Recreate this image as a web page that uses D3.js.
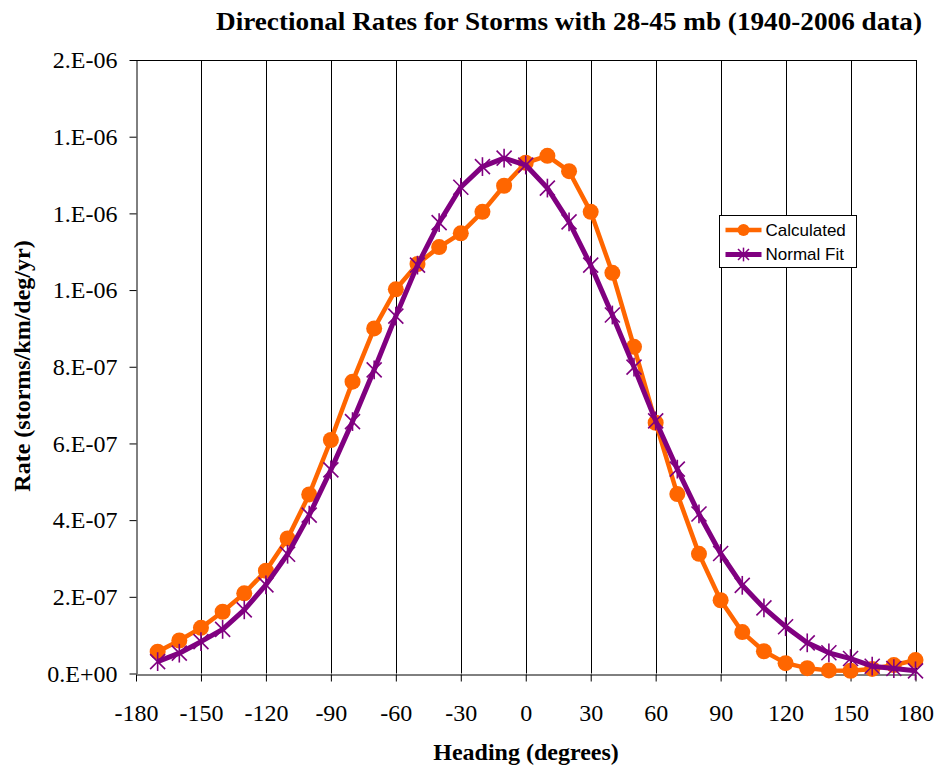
<!DOCTYPE html>
<html>
<head>
<meta charset="utf-8">
<script src="https://cdn.jsdelivr.net/npm/d3@7"></script>
<style>
  html, body { margin: 0; padding: 0; background: #fff; }
  svg { display: block; }
</style>
</head>
<body>
<svg id="chart" width="938" height="769"></svg>
<script>
// Heading bins (degrees) shared by both series
const headings = [-170, -160, -150, -140, -130, -120, -110, -100, -90, -80, -70, -60,
  -50, -40, -30, -20, -10, 0, 10, 20, 30, 40, 50, 60, 70, 80, 90, 100, 110, 120,
  130, 140, 150, 160, 170, 180];

// Calculated directional rate (storms/km/deg/yr)
const calculated = [5.7e-8, 8.6e-8, 1.19e-7, 1.61e-7, 2.09e-7, 2.68e-7, 3.52e-7, 4.67e-7,
  6.09e-7, 7.61e-7, 9.0e-7, 1.002e-6, 1.068e-6, 1.112e-6, 1.148e-6, 1.204e-6, 1.272e-6,
  1.332e-6, 1.35e-6, 1.31e-6, 1.204e-6, 1.045e-6, 8.52e-7, 6.54e-7, 4.68e-7, 3.12e-7,
  1.91e-7, 1.08e-7, 5.8e-8, 2.7e-8, 1.4e-8, 8e-9, 7e-9, 1.2e-8, 2.2e-8, 3.5e-8];

// Normal fit to the calculated rates
const normalFit = [3.1e-8, 5.3e-8, 8.3e-8, 1.15e-7, 1.66e-7, 2.31e-7, 3.11e-7, 4.13e-7,
  5.31e-7, 6.57e-7, 7.92e-7, 9.32e-7, 1.065e-6, 1.176e-6, 1.268e-6, 1.322e-6, 1.344e-6,
  1.326e-6, 1.266e-6, 1.178e-6, 1.065e-6, 9.35e-7, 7.99e-7, 6.59e-7, 5.33e-7, 4.16e-7,
  3.13e-7, 2.3e-7, 1.71e-7, 1.22e-7, 8.0e-8, 5.4e-8, 3.9e-8, 1.9e-8, 1.3e-8, 7e-9];

const xTicks = [-180, -150, -120, -90, -60, -30, 0, 30, 60, 90, 120, 150, 180];
const yTicks = [0, 2e-7, 4e-7, 6e-7, 8e-7, 1.0e-6, 1.2e-6, 1.4e-6, 1.6e-6];
const yTickLabels = ["0.E+00", "2.E-07", "4.E-07", "6.E-07", "8.E-07", "1.E-06", "1.E-06", "1.E-06", "2.E-06"];

const seriesNames = ["Calculated", "Normal Fit"];
const ORANGE = "#FF6600";
const PURPLE = "#800080";

const svg = d3.select("#chart");
const serif = "'Liberation Serif', 'Times New Roman', serif";
const sans = "'Liberation Sans', Arial, sans-serif";

const plot = { left: 136, right: 915.5, top: 60, bottom: 673.5 };

const x = d3.scaleLinear().domain([-180, 180]).range([plot.left, plot.right]);
const y = d3.scaleLinear().domain([0, 1.6e-6]).range([plot.bottom, plot.top]);

// Vertical gridlines
svg.append("g")
  .selectAll("line")
  .data(xTicks.slice(1))
  .join("line")
  .attr("x1", d => Math.round(x(d)) + 0.5)
  .attr("x2", d => Math.round(x(d)) + 0.5)
  .attr("y1", plot.top)
  .attr("y2", plot.bottom)
  .attr("stroke", "#000")
  .attr("stroke-width", 1);

// Top border
svg.append("line")
  .attr("x1", plot.left).attr("x2", Math.round(plot.right) + 1)
  .attr("y1", plot.top + 0.5).attr("y2", plot.top + 0.5)
  .attr("stroke", "#000");

// Axes
const yAxis = d3.axisLeft(y)
  .tickValues(yTicks)
  .tickFormat((d, i) => yTickLabels[i])
  .tickSizeInner(7)
  .tickSizeOuter(0)
  .tickPadding(12);

const xAxis = d3.axisBottom(x)
  .tickValues(xTicks)
  .tickFormat(d => String(d))
  .tickSizeInner(7)
  .tickSizeOuter(0)
  .tickPadding(22);

const gy = svg.append("g")
  .attr("transform", `translate(${plot.left + 0.5},0)`)
  .call(yAxis);
gy.selectAll("text").attr("font-family", serif).attr("font-size", 24).attr("fill", "#000");
gy.selectAll("line, path").attr("stroke", "#000");

const gx = svg.append("g")
  .attr("transform", `translate(0,${Math.round(plot.bottom) + 0.5})`)
  .call(xAxis);
gx.selectAll("text").attr("font-family", serif).attr("font-size", 24).attr("fill", "#000");
gx.selectAll("line, path").attr("stroke", "#000");

// Series lines
const line = d3.line().x(d => x(d[0])).y(d => y(d[1]));
const calcData = headings.map((h, i) => [h, calculated[i]]);
const fitData = headings.map((h, i) => [h, normalFit[i]]);

svg.append("path")
  .datum(calcData)
  .attr("d", line)
  .attr("fill", "none")
  .attr("stroke", ORANGE)
  .attr("stroke-width", 4.5)
  .attr("stroke-linejoin", "round");

svg.append("g")
  .selectAll("circle")
  .data(calcData)
  .join("circle")
  .attr("cx", d => x(d[0]))
  .attr("cy", d => y(d[1]))
  .attr("r", 8)
  .attr("fill", ORANGE);

svg.append("path")
  .datum(fitData)
  .attr("d", line)
  .attr("fill", "none")
  .attr("stroke", PURPLE)
  .attr("stroke-width", 5)
  .attr("stroke-linejoin", "round");

// Asterisk markers
function star(g, s) {
  g.append("line").attr("x1", -s).attr("y1", -s).attr("x2", s).attr("y2", s);
  g.append("line").attr("x1", -s).attr("y1", s).attr("x2", s).attr("y2", -s);
  g.append("line").attr("x1", 0).attr("y1", -s * 1.25).attr("x2", 0).attr("y2", s * 1.25);
}
svg.append("g")
  .selectAll("g")
  .data(fitData)
  .join("g")
  .attr("transform", d => `translate(${x(d[0])},${y(d[1])})`)
  .attr("stroke", PURPLE)
  .attr("stroke-width", 1.6)
  .each(function () { star(d3.select(this), 7.5); });

// Legend
const legend = svg.append("g").attr("transform", "translate(719.5,215.5)");
legend.append("rect")
  .attr("width", 137).attr("height", 52)
  .attr("fill", "#fff").attr("stroke", "#000").attr("stroke-width", 1);

const leg1 = legend.append("g").attr("transform", "translate(0,14.5)");
leg1.append("line").attr("x1", 6).attr("x2", 42).attr("stroke", ORANGE).attr("stroke-width", 4.5);
leg1.append("circle").attr("cx", 24).attr("r", 6).attr("fill", ORANGE);
leg1.append("text").attr("x", 46).attr("y", 0).attr("dy", "0.35em")
  .attr("font-family", sans).attr("font-size", 17).text(seriesNames[0]);

const leg2 = legend.append("g").attr("transform", "translate(0,39)");
leg2.append("line").attr("x1", 6).attr("x2", 42).attr("stroke", PURPLE).attr("stroke-width", 5);
const ls = leg2.append("g").attr("transform", "translate(24,0)")
  .attr("stroke", PURPLE).attr("stroke-width", 1.5);
star(ls, 5.5);
leg2.append("text").attr("x", 46).attr("y", 0).attr("dy", "0.35em")
  .attr("font-family", sans).attr("font-size", 17).text(seriesNames[1]);

// Title and axis labels
svg.append("text")
  .attr("x", 569).attr("y", 30)
  .attr("text-anchor", "middle")
  .attr("font-family", serif).attr("font-weight", "bold").attr("font-size", 26)
  .attr("textLength", 706).attr("lengthAdjust", "spacingAndGlyphs")
  .text("Directional Rates for Storms with 28-45 mb (1940-2006 data)");

svg.append("text")
  .attr("x", 526).attr("y", 760)
  .attr("text-anchor", "middle")
  .attr("font-family", serif).attr("font-weight", "bold").attr("font-size", 24)
  .text("Heading (degrees)");

svg.append("text")
  .attr("transform", "translate(30,366) rotate(-90)")
  .attr("text-anchor", "middle")
  .attr("font-family", serif).attr("font-weight", "bold").attr("font-size", 24)
  .text("Rate (storms/km/deg/yr)");
</script>
</body>
</html>
